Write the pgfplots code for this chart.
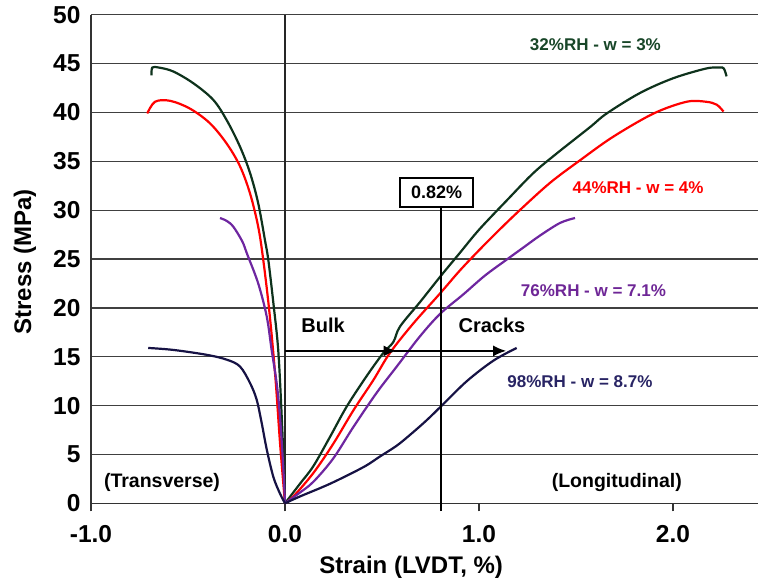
\documentclass[border=0pt]{standalone}
\usepackage{fontspec}
\setmainfont{Liberation Sans}
\usepackage{pgfplots}
\pgfplotsset{compat=1.18}
\usetikzlibrary{arrows.meta}
\definecolor{cgreen}{RGB}{14,50,28}
\definecolor{tgreen}{RGB}{24,70,40}
\definecolor{cred}{RGB}{255,0,0}
\definecolor{cpurple}{RGB}{110,38,160}
\definecolor{tpurple}{RGB}{110,38,150}
\definecolor{cnavy}{RGB}{22,18,68}
\definecolor{tnavy}{RGB}{40,36,100}
\begin{document}
\begin{tikzpicture}
\path[use as bounding box] (-91pt,-78.7pt) rectangle (667pt,503.3pt);
\begin{axis}[
  at={(0pt,0pt)}, anchor=south west,
  scale only axis, width=667pt, height=488.5pt,
  xmin=-1, xmax=2.438, ymin=0, ymax=50,
  axis x line*=bottom, axis y line*=left,
  axis line style={black!80, line width=1.3pt},
  xtick={-1,0,1,2}, xticklabels={-1.0,0.0,1.0,2.0},
  ytick={0,5,10,15,20,25,30,35,40,45,50},
  yticklabels={0,5,10,15,20,25,30,35,40,45,50},
  ymajorgrids, grid style={black!75, line width=1.3pt},
  xtick align=outside, major tick length=8pt,
  ytick style={draw=none},
  x tick style={black!80, line width=1.3pt},
  ticklabel style={font=\fontsize{24.5}{28}\selectfont\bfseries},
  xticklabel style={yshift=-11pt},
  yticklabel style={xshift=-7pt},
  xlabel={Strain (LVDT, \%)}, ylabel={Stress (MPa)},
  label style={font=\fontsize{24}{28}\selectfont\bfseries},
  xlabel style={at={(axis description cs:0.48,-0.13)}, anchor=center},
  ylabel style={at={(axis description cs:-0.099,0.494)}, anchor=center},
  clip=false,
  every axis plot/.append style={line width=2.2pt, smooth, tension=0.55},
]
\draw[black!85, line width=1.3pt] (axis cs:0,0) -- (axis cs:0,50);

% 32%RH
\addplot[cgreen] coordinates {(-0.688,43.8) (-0.684,44.6) (-0.65,44.6) (-0.576,44.2) (-0.473,43.0) (-0.37,41.3) (-0.30,39.2) (-0.232,36.5) (-0.18,33.8) (-0.138,30.7) (-0.103,26.9) (-0.086,24.9) (-0.06,20.5) (-0.035,15.7) (-0.017,8.9) (-0.005,3) (0,0)};
\addplot[cgreen] coordinates {(0,0) (0.077,2.0) (0.146,3.8) (0.232,6.8) (0.318,9.9) (0.42,13.0) (0.507,15.4) (0.558,16.5) (0.593,18.1) (0.696,20.6) (0.80,23.2) (0.90,25.6) (1.0,28.0) (1.143,31.0) (1.28,33.8) (1.40,35.8) (1.572,38.5) (1.658,39.9) (1.83,42.0) (2.0,43.5) (2.17,44.5) (2.24,44.6) (2.262,44.5) (2.276,43.7)};
% 44%RH
\addplot[cred] coordinates {(-0.71,39.9) (-0.67,41.1) (-0.593,41.2) (-0.49,40.4) (-0.387,38.9) (-0.30,36.8) (-0.232,34.5) (-0.18,31.7) (-0.138,28.3) (-0.112,24.9) (-0.08,19.5) (-0.05,13) (-0.025,6) (0,0)};
\addplot[cred] coordinates {(0,0) (0.043,0.7) (0.146,3.1) (0.249,6.1) (0.352,9.5) (0.455,12.6) (0.541,15.4) (0.661,18.4) (0.80,21.5) (0.90,23.8) (1.0,25.9) (1.1,27.9) (1.21,30.0) (1.366,32.8) (1.52,35.1) (1.69,37.5) (1.90,39.9) (2.07,41.1) (2.17,41.1) (2.225,40.8) (2.26,40.1)};
% 76%RH
\addplot[cpurple] coordinates {(-0.335,29.2) (-0.30,28.9) (-0.266,28.3) (-0.22,26.8) (-0.195,25.5) (-0.138,22.5) (-0.094,19.1) (-0.069,15.7) (-0.043,12.3) (-0.026,8.9) (-0.009,3.7) (0,0)};
\addplot[cpurple] coordinates {(0,0) (0.07,1.0) (0.146,2.2) (0.249,4.6) (0.352,7.8) (0.472,11.3) (0.576,14.0) (0.696,17.1) (0.80,19.4) (0.92,21.4) (1.03,23.3) (1.143,24.95) (1.23,26.2) (1.314,27.4) (1.418,28.7) (1.495,29.2)};
% 98%RH
\addplot[cnavy] coordinates {(-0.705,15.9) (-0.576,15.7) (-0.404,15.2) (-0.30,14.7) (-0.232,14.0) (-0.18,12.3) (-0.146,10.6) (-0.12,8.2) (-0.094,5.5) (-0.06,2.7) (-0.026,1.0) (0,0)};
\addplot[cnavy] coordinates {(0,0) (0.077,0.7) (0.232,2.0) (0.404,3.7) (0.49,4.8) (0.576,5.9) (0.65,7.1) (0.73,8.5) (0.808,10.0) (0.937,12.5) (1.074,14.6) (1.194,15.9)};

% annotations
\draw[black, line width=1.8pt] (axis cs:0.804,-0.8) -- (axis cs:0.804,30.4);
\node[draw=black, line width=1.8pt, fill=white, minimum width=73pt, minimum height=29pt, inner sep=0pt, font=\fontsize{18}{20}\selectfont\bfseries] at (axis cs:0.782,31.8) {0.82\%};
\draw[black, line width=1.8pt, -{Latex[length=13pt,width=11pt]}] (axis cs:0,15.6) -- (axis cs:0.575,15.6);
\draw[black, line width=1.8pt, -{Latex[length=13pt,width=11pt]}] (axis cs:0.56,15.6) -- (axis cs:1.14,15.6);
\node[font=\fontsize{20}{24}\selectfont\bfseries] at (axis cs:0.196,18.2) {Bulk};
\node[font=\fontsize{20}{24}\selectfont\bfseries] at (axis cs:1.067,18.2) {Cracks};
\node[font=\fontsize{19.5}{24}\selectfont\bfseries] at (axis cs:-0.634,2.1) {(Transverse)};
\node[font=\fontsize{19.5}{24}\selectfont\bfseries] at (axis cs:1.71,2.1) {(Longitudinal)};
\node[font=\fontsize{17}{20}\selectfont\bfseries, text=tgreen] at (axis cs:1.60,46.9) {32\%RH - w = 3\%};
\node[font=\fontsize{17}{20}\selectfont\bfseries, text=cred] at (axis cs:1.82,32.3) {44\%RH - w = 4\%};
\node[font=\fontsize{17}{20}\selectfont\bfseries, text=tpurple] at (axis cs:1.59,21.8) {76\%RH - w = 7.1\%};
\node[font=\fontsize{17}{20}\selectfont\bfseries, text=tnavy] at (axis cs:1.52,12.5) {98\%RH - w = 8.7\%};
\end{axis}
\end{tikzpicture}
\end{document}
